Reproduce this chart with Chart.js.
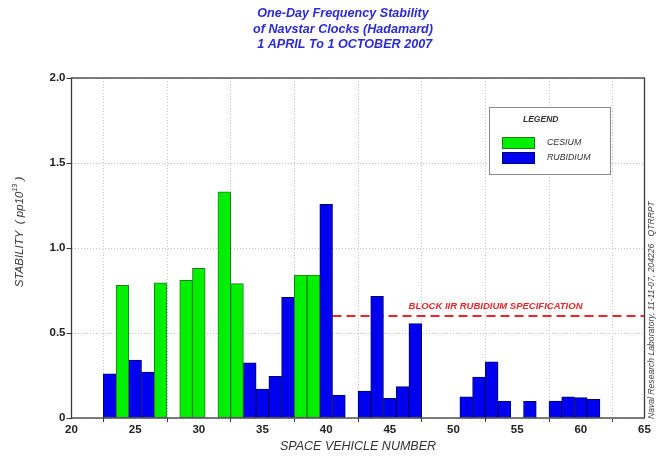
<!DOCTYPE html>
<html>
<head>
<meta charset="utf-8">
<title>One-Day Frequency Stability of Navstar Clocks</title>
<script src="https://cdn.jsdelivr.net/npm/chart.js@4/dist/chart.umd.min.js"></script>
<style>
  html, body { margin: 0; padding: 0; background: #ffffff; }
  #wrap { width: 662px; height: 457px; }
</style>
</head>
<body>
<div id="wrap"><canvas id="stability" width="662" height="457"></canvas></div>
<script>
// Space vehicle numbers and Hadamard stability (pp10^13), per clock type
const cesiumSV = [24, 27, 29, 30, 32, 33, 38, 39];
const cesiumValues = [0.78, 0.795, 0.81, 0.88, 1.33, 0.79, 0.84, 0.84];

const rubidiumSV = [23, 25, 26, 34, 35, 36, 37, 40, 41, 43, 44, 45, 46, 47,
                    51, 52, 53, 54, 56, 58, 59, 60, 61];
const rubidiumValues = [0.26, 0.34, 0.27, 0.325, 0.17, 0.245, 0.71, 1.257, 0.135,
                        0.158, 0.715, 0.115, 0.185, 0.555,
                        0.125, 0.24, 0.33, 0.098, 0.098, 0.10, 0.125, 0.12, 0.11];

// Block IIR rubidium spec line (from SV 40.5 to the right edge)
const specX = [40.5, 65];
const specLevel = 0.6;
const specLabel = 'BLOCK IIR RUBIDIUM SPECIFICATION';

const titleLines = [
    'One-Day Frequency Stability',
    'of Navstar Clocks (Hadamard)',
    ' 1 APRIL To 1 OCTOBER 2007'
];
const xTitle = 'SPACE VEHICLE NUMBER';
const creditText = 'Naval Research Laboratory, 11-11-07, 204226   QTRRPT';

const FONT = "'Liberation Sans', Arial, sans-serif";
const colors = {
    cesium: '#00f000',
    cesiumEdge: '#1f7a1f',
    rubidium: '#0000f0',
    rubidiumEdge: '#00006e',
    spec: '#e8262c',
    title: '#2b2bd6',
    text: '#333333',
    grid: '#c4c4c4',
    frame: '#3a3a3a'
};

const toPoints = (xs, ys) => xs.map((x, i) => ({ x: x, y: ys[i] }));

// Titles, frame, legend box and annotation text
const decorations = {
    id: 'decorations',
    afterDraw(chart) {
        const { ctx, chartArea: area, scales } = chart;
        const xs = scales.x, ys = scales.y;
        ctx.save();

        // plot frame
        ctx.strokeStyle = colors.frame;
        ctx.lineWidth = 1.3;
        ctx.strokeRect(area.left, area.top, area.right - area.left, area.bottom - area.top);

        // main title
        ctx.fillStyle = colors.title;
        ctx.font = `italic bold 12.6px ${FONT}`;
        ctx.textAlign = 'center';
        ctx.textBaseline = 'middle';
        const titleY = [14, 29.5, 45];
        titleLines.forEach((line, i) => ctx.fillText(line, 343, titleY[i]));

        // x axis title
        ctx.fillStyle = colors.text;
        ctx.font = `italic 12.5px ${FONT}`;
        ctx.fillText(xTitle, 358, 447);

        // y axis title with superscript exponent
        ctx.save();
        ctx.translate(20, 232);
        ctx.rotate(-Math.PI / 2);
        ctx.font = `italic 11.5px ${FONT}`;
        const parts = ['STABILITY  ( pp10', '13', ' )'];
        const w0 = ctx.measureText(parts[0]).width;
        ctx.font = `italic 7px ${FONT}`;
        const w1 = ctx.measureText(parts[1]).width;
        ctx.font = `italic 11.5px ${FONT}`;
        const w2 = ctx.measureText(parts[2]).width;
        let x0 = -(w0 + w1 + w2) / 2;
        ctx.textAlign = 'left';
        ctx.fillText(parts[0], x0, 0);
        ctx.font = `italic 7px ${FONT}`;
        ctx.fillText(parts[1], x0 + w0, -5);
        ctx.font = `italic 11.5px ${FONT}`;
        ctx.fillText(parts[2], x0 + w0 + w1, 0);
        ctx.restore();

        // credit line along the right edge
        ctx.save();
        ctx.translate(652, 419);
        ctx.rotate(-Math.PI / 2);
        ctx.fillStyle = '#444444';
        ctx.font = `italic 8.6px ${FONT}`;
        ctx.textAlign = 'left';
        ctx.fillText(creditText, 0, 0);
        ctx.restore();

        // spec label above the dashed line
        ctx.fillStyle = colors.spec;
        ctx.font = `italic bold 9.5px ${FONT}`;
        ctx.textAlign = 'center';
        ctx.fillText(specLabel, xs.getPixelForValue(53.3), ys.getPixelForValue(0.655));

        // legend box
        ctx.fillStyle = '#ffffff';
        ctx.fillRect(489, 107, 121, 67);
        ctx.strokeStyle = '#8a8a8a';
        ctx.lineWidth = 1;
        ctx.strokeRect(489.5, 107.5, 121, 67);
        ctx.fillStyle = colors.text;
        ctx.font = `italic bold 8.5px ${FONT}`;
        ctx.textAlign = 'left';
        ctx.fillText('LEGEND', 523, 120);

        ctx.fillStyle = colors.cesium;
        ctx.fillRect(502, 137, 32, 11);
        ctx.strokeStyle = colors.cesiumEdge;
        ctx.strokeRect(502.5, 137.5, 32, 11);
        ctx.fillStyle = colors.rubidium;
        ctx.fillRect(502, 152, 32, 11);
        ctx.strokeStyle = colors.rubidiumEdge;
        ctx.strokeRect(502.5, 152.5, 32, 11);

        ctx.fillStyle = colors.text;
        ctx.font = `italic 8.8px ${FONT}`;
        ctx.fillText('CESIUM', 547, 142.5);
        ctx.fillText('RUBIDIUM', 547, 158);

        ctx.restore();
    }
};

const ctx = document.getElementById('stability').getContext('2d');
new Chart(ctx, {
    type: 'bar',
    data: {
        datasets: [
            {
                label: 'CESIUM',
                data: toPoints(cesiumSV, cesiumValues),
                backgroundColor: colors.cesium,
                borderColor: colors.cesiumEdge,
                borderWidth: 1,
                borderSkipped: false,
                grouped: false,
                barPercentage: 1,
                categoryPercentage: 1
            },
            {
                label: 'RUBIDIUM',
                data: toPoints(rubidiumSV, rubidiumValues),
                backgroundColor: colors.rubidium,
                borderColor: colors.rubidiumEdge,
                borderWidth: 1,
                borderSkipped: false,
                grouped: false,
                barPercentage: 1,
                categoryPercentage: 1
            },
            {
                type: 'line',
                label: 'SPEC',
                data: specX.map(x => ({ x: x, y: specLevel })),
                borderColor: colors.spec,
                borderWidth: 2,
                borderDash: [9, 5],
                pointRadius: 0,
                fill: false,
                clip: false
            }
        ]
    },
    options: {
        responsive: false,
        animation: false,
        devicePixelRatio: 1,
        layout: { padding: { left: 0, top: 78, right: 17.5, bottom: 0 } },
        plugins: {
            legend: { display: false },
            tooltip: { enabled: false }
        },
        scales: {
            x: {
                type: 'linear',
                min: 20,
                max: 65,
                offset: false,
                ticks: {
                    stepSize: 5,
                    color: '#222222',
                    font: { family: FONT, size: 11.5, weight: 'bold' },
                    padding: 1
                },
                grid: {
                    color: colors.grid,
                    tickLength: 4,
                    tickColor: '#3a3a3a'
                },
                border: { display: false, dash: [1, 2] },
                afterFit: (scale) => { scale.height = 39; }
            },
            y: {
                min: 0,
                max: 2,
                ticks: {
                    stepSize: 0.5,
                    color: '#222222',
                    font: { family: FONT, size: 11.5, weight: 'bold' },
                    padding: 1,
                    callback: (v) => v === 0 ? '0' : v.toFixed(1)
                },
                grid: {
                    color: colors.grid,
                    tickLength: 5,
                    tickColor: '#3a3a3a'
                },
                border: { display: false, dash: [1, 2] },
                afterFit: (scale) => { scale.width = 71.5; }
            }
        }
    },
    plugins: [decorations]
});
</script>
</body>
</html>
